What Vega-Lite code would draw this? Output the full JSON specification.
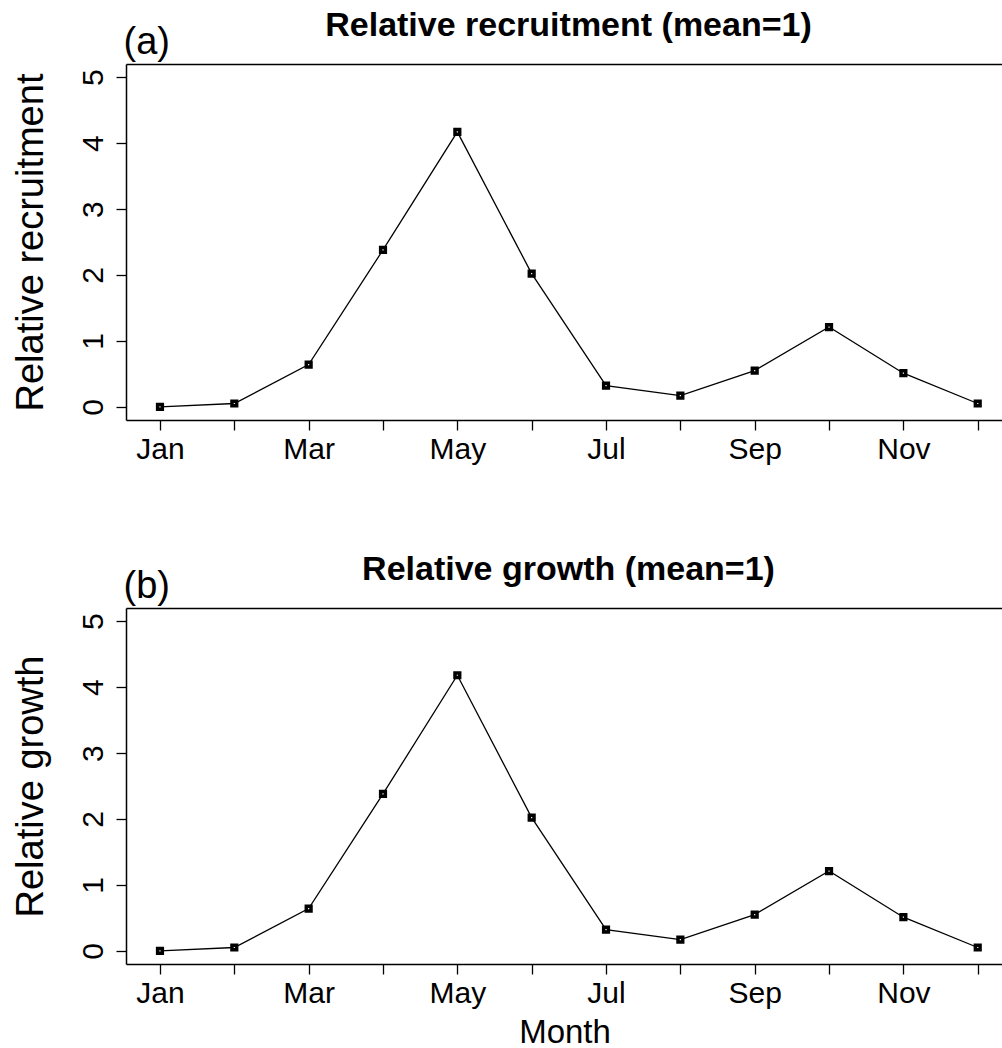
{
  "$schema": "https://vega.github.io/schema/vega-lite/v6.json",
  "padding": {"left": 11, "top": 9, "right": 0, "bottom": 0},
  "background": "white",
  "bounds": "flush",
  "spacing": 188,
  "config": {
    "font": "Liberation Sans",
    "view": {"stroke": null},
    "axis": {"grid": false, "domainColor": "black", "tickColor": "black", "labelColor": "black", "titleColor": "black", "labelFont": "Liberation Sans", "titleFont": "Liberation Sans"}
  },
  "datasets": {
    "recruitment": [
      {"month": 1, "value": 0.0},
      {"month": 2, "value": 0.05},
      {"month": 3, "value": 0.64},
      {"month": 4, "value": 2.38},
      {"month": 5, "value": 4.17},
      {"month": 6, "value": 2.02},
      {"month": 7, "value": 0.32},
      {"month": 8, "value": 0.17},
      {"month": 9, "value": 0.55},
      {"month": 10, "value": 1.21},
      {"month": 11, "value": 0.51},
      {"month": 12, "value": 0.05}
    ],
    "growth": [
      {"month": 1, "value": 0.0},
      {"month": 2, "value": 0.05},
      {"month": 3, "value": 0.64},
      {"month": 4, "value": 2.38},
      {"month": 5, "value": 4.18},
      {"month": 6, "value": 2.02},
      {"month": 7, "value": 0.32},
      {"month": 8, "value": 0.17},
      {"month": 9, "value": 0.55},
      {"month": 10, "value": 1.21},
      {"month": 11, "value": 0.51},
      {"month": 12, "value": 0.05}
    ]
  },
  "vconcat": [
    {
      "width": 877,
      "height": 356,
      "data": {"name": "recruitment"},
      "title": {"text": "Relative recruitment (mean=1)", "fontSize": 34, "fontWeight": "bold", "color": "black", "anchor": "middle", "frame": "group", "baseline": "alphabetic", "offset": -47, "dx": 4},
      "resolve": {"axis": {"x": "independent"}},
      "layer": [
        {
          "mark": {"type": "line", "color": "black", "strokeWidth": 1.3},
          "encoding": {
            "x": {"field": "month", "type": "quantitative", "scale": {"domain": [0.543, 12.34], "nice": false, "zero": false},
              "axis": {"orient": "bottom", "values": [1,2,3,4,5,6,7,8,9,10,11,12], "labelExpr": "datum.value % 2 == 1 ? ['Jan','Feb','Mar','Apr','May','Jun','Jul','Aug','Sep','Oct','Nov','Dec'][datum.value - 1] : ''", "labelFontSize": 30, "labelPadding": 4, "labelOverlap": false, "labelFlush": false, "labelBound": false, "tickSize": 10, "tickWidth": 1.3, "domainWidth": 1.5, "title": null}},
            "y": {"field": "value", "type": "quantitative", "scale": {"domain": [-0.2, 5.2], "nice": false, "zero": false},
              "axis": {"values": [0,1,2,3,4,5], "labelAngle": -90, "labelAlign": "center", "labelBaseline": "alphabetic", "labelFontSize": 30, "labelPadding": 14, "tickSize": 10, "tickWidth": 1.3, "domainWidth": 1.5, "title": "Relative recruitment", "titleFontSize": 38, "titleFontWeight": "normal", "titleAngle": -90, "titleAlign": "center", "titleBaseline": "alphabetic", "titleX": -84}}
          }
        },
        {
          "mark": {"type": "point", "shape": "square", "filled": false, "fill": "white", "stroke": "black", "strokeWidth": 3.5, "size": 22, "opacity": 1},
          "encoding": {
            "x": {"field": "month", "type": "quantitative", "scale": {"domain": [0.543, 12.34], "nice": false, "zero": false},
              "axis": {"orient": "top", "ticks": false, "labels": false, "domainWidth": 1.5, "title": "(a)", "titleFontSize": 38, "titleFontWeight": "normal", "titleAlign": "left", "titleBaseline": "alphabetic", "titleX": -3, "titleY": -11}},
            "y": {"field": "value", "type": "quantitative", "scale": {"domain": [-0.2, 5.2], "nice": false, "zero": false},
              "axis": {"values": [0,1,2,3,4,5], "labelAngle": -90, "labelAlign": "center", "labelBaseline": "alphabetic", "labelFontSize": 30, "labelPadding": 14, "tickSize": 10, "tickWidth": 1.3, "domainWidth": 1.5, "title": "Relative recruitment", "titleFontSize": 38, "titleFontWeight": "normal", "titleAngle": -90, "titleAlign": "center", "titleBaseline": "alphabetic", "titleX": -84}}
          }
        }
      ]
    },
    {
      "width": 877,
      "height": 356,
      "data": {"name": "growth"},
      "title": {"text": "Relative growth (mean=1)", "fontSize": 34, "fontWeight": "bold", "color": "black", "anchor": "middle", "frame": "group", "baseline": "alphabetic", "offset": -47, "dx": 4},
      "resolve": {"axis": {"x": "independent"}},
      "layer": [
        {
          "mark": {"type": "line", "color": "black", "strokeWidth": 1.3},
          "encoding": {
            "x": {"field": "month", "type": "quantitative", "scale": {"domain": [0.543, 12.34], "nice": false, "zero": false},
              "axis": {"orient": "bottom", "values": [1,2,3,4,5,6,7,8,9,10,11,12], "labelExpr": "datum.value % 2 == 1 ? ['Jan','Feb','Mar','Apr','May','Jun','Jul','Aug','Sep','Oct','Nov','Dec'][datum.value - 1] : ''", "labelFontSize": 30, "labelPadding": 4, "labelOverlap": false, "labelFlush": false, "labelBound": false, "tickSize": 10, "tickWidth": 1.3, "domainWidth": 1.5, "title": "Month", "titleFontSize": 33, "titleFontWeight": "normal", "titleBaseline": "alphabetic", "titleY": 78}},
            "y": {"field": "value", "type": "quantitative", "scale": {"domain": [-0.2, 5.2], "nice": false, "zero": false},
              "axis": {"values": [0,1,2,3,4,5], "labelAngle": -90, "labelAlign": "center", "labelBaseline": "alphabetic", "labelFontSize": 30, "labelPadding": 14, "tickSize": 10, "tickWidth": 1.3, "domainWidth": 1.5, "title": "Relative growth", "titleFontSize": 38, "titleFontWeight": "normal", "titleAngle": -90, "titleAlign": "center", "titleBaseline": "alphabetic", "titleX": -84}}
          }
        },
        {
          "mark": {"type": "point", "shape": "square", "filled": false, "fill": "white", "stroke": "black", "strokeWidth": 3.5, "size": 22, "opacity": 1},
          "encoding": {
            "x": {"field": "month", "type": "quantitative", "scale": {"domain": [0.543, 12.34], "nice": false, "zero": false},
              "axis": {"orient": "top", "ticks": false, "labels": false, "domainWidth": 1.5, "title": "(b)", "titleFontSize": 38, "titleFontWeight": "normal", "titleAlign": "left", "titleBaseline": "alphabetic", "titleX": -3, "titleY": -11}},
            "y": {"field": "value", "type": "quantitative", "scale": {"domain": [-0.2, 5.2], "nice": false, "zero": false},
              "axis": {"values": [0,1,2,3,4,5], "labelAngle": -90, "labelAlign": "center", "labelBaseline": "alphabetic", "labelFontSize": 30, "labelPadding": 14, "tickSize": 10, "tickWidth": 1.3, "domainWidth": 1.5, "title": "Relative growth", "titleFontSize": 38, "titleFontWeight": "normal", "titleAngle": -90, "titleAlign": "center", "titleBaseline": "alphabetic", "titleX": -84}}
          }
        }
      ]
    }
  ]
}
